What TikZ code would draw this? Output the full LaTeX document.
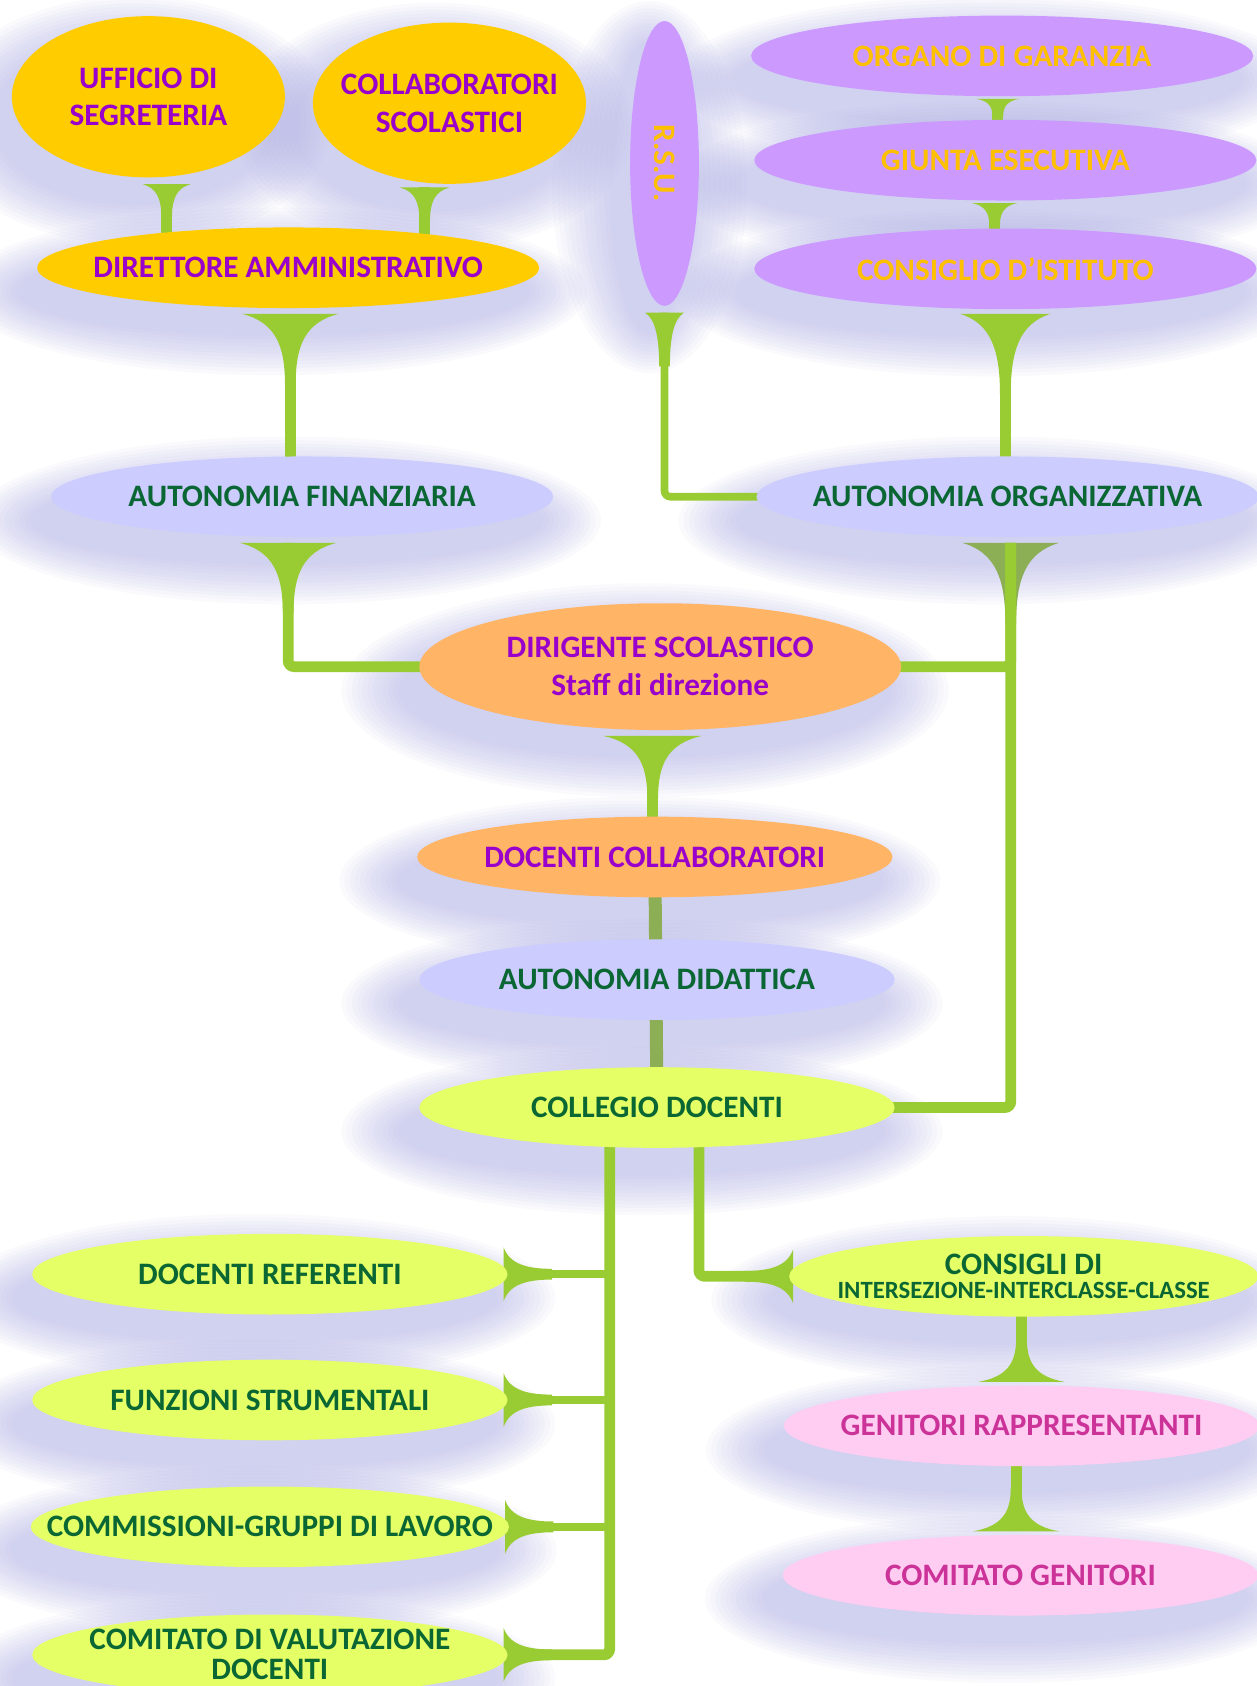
\documentclass[tikz,border=0pt]{standalone}
\usepackage{fontspec}
\setmainfont{Carlito}
\usepackage{graphicx}
\usepackage{tikz}
\usetikzlibrary{calc,shapes.geometric}

\definecolor{giallo}{HTML}{FFCC00}
\definecolor{viola}{HTML}{9900CC}
\definecolor{lilla}{HTML}{CC99FF}
\definecolor{ambra}{HTML}{FFC000}
\definecolor{pervinca}{HTML}{CCCCFF}
\definecolor{verdone}{HTML}{0A6633}
\definecolor{pesca}{HTML}{FFB565}
\definecolor{limetta}{HTML}{E5FF66}
\definecolor{rosa}{HTML}{FFCCF2}
\definecolor{fucsia}{HTML}{CC3399}
\definecolor{stelo}{HTML}{99CC33}
\definecolor{oliva}{HTML}{8CAE55}
\definecolor{alone}{HTML}{B4B4EA}

\pgfdeclarelayer{sfondo}
\pgfdeclarelayer{steli}
\pgfsetlayers{sfondo,steli,main}

\tikzset{
	pics/flare/.style 2 args={code={
		\fill (-#1,0) .. controls (-5-0.2*#1,0.12*#2) and (-5,0.45*#2) .. (-5,#2)
			-- (5,#2) .. controls (5,0.45*#2) and (5+0.2*#1,0.12*#2) .. (#1,0) -- cycle;
	}},
}

\begin{document}
\begin{tikzpicture}[x=0.5375pt, y=-0.5375pt,
		every node/.style={font=\bfseries\fontsize{15.6}{18.8}\selectfont},
		bolla/.style={ellipse, inner xsep=-27pt, inner ysep=-6pt, align=center},
		largo/.style={bolla, minimum width=251pt, minimum height=40.3pt},
		medio/.style={bolla, minimum width=237.6pt, minimum height=40.3pt},
		tondo/.style={bolla, minimum width=136.5pt, minimum height=80.6pt},
		nodoOro/.style={fill=giallo, text=viola},
		nodoLilla/.style={fill=lilla, text=ambra},
		nodoAut/.style={fill=pervinca, text=verdone},
		nodoPesca/.style={fill=pesca, text=viola},
		nodoLime/.style={fill=limetta, text=verdone},
		nodoRosa/.style={fill=rosa, text=fucsia},
		bar/.style={draw=stelo, line width=5.4pt, rounded corners=3pt},
		ramo/.style={draw=stelo, line width=3.8pt}]
	\useasboundingbox (0,0) rectangle (1169,1568);

	\node[tondo, nodoOro] (uff) at (138, 90) {UFFICIO DI\\SEGRETERIA};
	\node[tondo, nodoOro] (col) at (418, 96) {COLLABORATORI\\SCOLASTICI};
	\node[largo, nodoOro] (dir) at (268, 249) {DIRETTORE AMMINISTRATIVO};
	\node[bolla, nodoLilla, minimum width=34.4pt, minimum height=142.4pt] (rsu) at (618, 152) {\rotatebox{-90}{R.S.U.}};
	\node[largo, nodoLilla] (org) at (932, 52) {ORGANO DI GARANZIA};
	\node[largo, nodoLilla] (giu) at (935, 149) {GIUNTA ESECUTIVA};
	\node[largo, nodoLilla] (cdi) at (935, 250) {CONSIGLIO D’ISTITUTO};
	\node[largo, nodoAut] (afin) at (281, 462) {AUTONOMIA FINANZIARIA};
	\node[largo, nodoAut] (aorg) at (937, 462) {AUTONOMIA ORGANIZZATIVA};
	\node[bolla, nodoPesca, minimum width=240.8pt, minimum height=63.4pt] (ds) at (614, 620) {DIRIGENTE SCOLASTICO\\Staff di direzione};
	\node[medio, nodoPesca] (dcol) at (609, 797) {DOCENTI COLLABORATORI};
	\node[medio, nodoAut] (adid) at (611, 911) {AUTONOMIA DIDATTICA};
	\node[medio, nodoLime] (cd) at (611, 1030) {COLLEGIO DOCENTI};
	\node[medio, nodoLime] (dref) at (251, 1185) {DOCENTI REFERENTI};
	\node[medio, nodoLime] (fstr) at (251, 1302) {FUNZIONI STRUMENTALI};
	\node[medio, nodoLime] (comm) at (251, 1420) {COMMISSIONI-GRUPPI DI LAVORO};
	\node[medio, nodoLime] (cval) at (251, 1539) {COMITATO DI VALUTAZIONE\\[-3.8pt]DOCENTI};
	\node[medio, nodoLime, minimum width=234.4pt] (cons) at (952, 1187) {CONSIGLI DI\\[-6.5pt]{\fontsize{12.4}{12.4}\selectfont INTERSEZIONE-INTERCLASSE-CLASSE}};
	\node[medio, nodoRosa] (gen) at (950, 1326) {GENITORI RAPPRESENTANTI};
	\node[medio, nodoRosa] (cgen) at (949, 1465) {COMITATO GENITORI};

	\begin{pgfonlayer}{sfondo}
		\fill[white] (0,0) rectangle (1169,1568);
		\foreach \nd in {uff,col,dir,rsu,org,giu,cdi,afin,aorg,ds,dcol,adid,cd,dref,fstr,comm,cval,cons,gen,cgen}
			\foreach \k in {1,...,12}
				\fill[alone, fill opacity=0.065] let \p1=(\nd.center), \p2=(\nd.east), \p3=(\nd.north) in
					($(\p1)+(-14,22)$) ellipse [x radius=\x2-\x1+\k*2.6pt, y radius=\y3-\y1+\k*1.8pt];
	\end{pgfonlayer}

	\begin{pgfonlayer}{steli}
		\coordinate (s1) at ($(uff.south)+(17,6)$);
		\coordinate (s2) at ($(col.south)+(-23,3)$);
		\coordinate (s3) at ($(dir.south)+(2,5)$);
		\coordinate (s4) at ($(org.south)+(-4,2)$);
		\coordinate (s5) at ($(giu.south)+(-10,2)$);
		\coordinate (s6) at ($(cdi.south)+(0,4)$);
		\coordinate (s7) at ($(rsu.south)+(0,6)$);
		\coordinate (s8) at ($(afin.south)+(-13,5)$);
		\coordinate (s9) at ($(aorg.south)+(3,5)$);
		\coordinate (s10) at ($(ds.south)+(-7,5)$);
		\coordinate (s11) at ($(gen.north)+(0,-3)$);
		\coordinate (s12) at ($(cgen.north)+(-4,-3)$);
		\coordinate (t1) at ($(cd.center)+(-44,0)$);
		\coordinate (t2) at ($(cd.center)+(39,0)$);

		\pic[stelo] at (s1) {flare={22}{30}};
		\pic[stelo] at (s2) {flare={23}{30}};
		\pic[stelo] at (s3) {flare={45}{65}};
		\pic[stelo] at (s4) {flare={20}{16}};
		\pic[stelo] at (s5) {flare={21}{20}};
		\pic[stelo] at (s6) {flare={42}{75}};
		\pic[stelo] at (s7) {flare={18}{50}};
		\pic[stelo] at (s8) {flare={45}{65}};
		\pic[oliva] at (s9) {flare={45}{75}};
		\pic[stelo] at (s10) {flare={46}{58}};
		\pic[stelo, rotate=180] at (s11) {flare={40}{40}};
		\pic[stelo, rotate=180] at (s12) {flare={40}{40}};
		\pic[stelo, rotate=-90] at ($(cons.west)+(4,0)$) {flare={25}{45}};

		\draw[bar] (s1) -- (s1 |- dir.center);
		\draw[bar] (s2) -- (s2 |- dir.center);
		\draw[bar] (s3) -- (s3 |- afin.center);
		\draw[bar] (s4) -- (s4 |- giu.center);
		\draw[bar] (s5) -- (s5 |- cdi.center);
		\draw[bar] (s6) -- (s6 |- aorg.center);
		\draw[bar, line width=3.8pt] (s7) |- (aorg.center);
		\draw[bar] (s8) |- (ds.center);
		\draw[bar] (s9) |- (cd.center);
		\draw[bar] (ds.center) -| (s9);
		\draw[bar] (s10) -- (s10 |- dcol.center);
		\draw[bar, draw=oliva, line width=6.5pt] (dcol.center) -- (cd.center);
		\draw[bar] (t1) |- (cval.east);
		\draw[bar] (t2) |- (cons.center);
		\draw[bar] (s11) -- (s11 |- cons.center);
		\draw[bar] (s12) -- (s12 |- gen.center);
		\foreach \nd in {dref,fstr,comm,cval} {
			\draw[ramo] (t1 |- \nd.east) -- (\nd.east);
			\pic[stelo, rotate=90] at ($(\nd.east)+(-4,0)$) {flare={25}{45}};
		}
	\end{pgfonlayer}
\end{tikzpicture}
\end{document}
